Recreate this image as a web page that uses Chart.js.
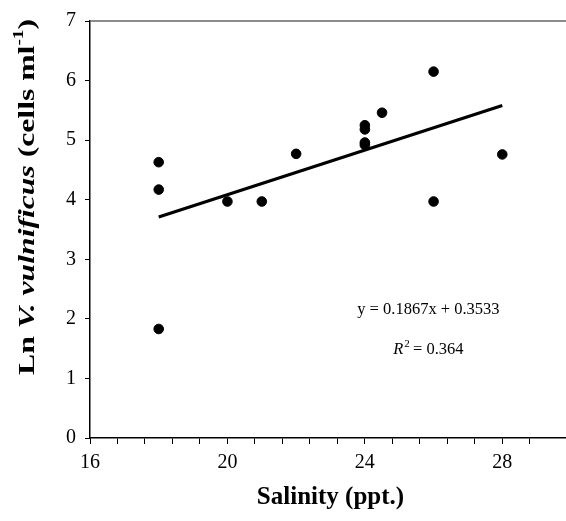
<!DOCTYPE html>
<html>
<head>
<meta charset="utf-8">
<script src="https://cdn.jsdelivr.net/npm/chart.js@4/dist/chart.umd.min.js"></script>
<style>
    html, body { margin: 0; padding: 0; overflow: hidden; background: #fff; }
    canvas { display: block; }
</style>
</head>
<body>
<canvas id="salinityChart" width="580" height="521"></canvas>
<script>
(function () {

    // salinity (ppt.) of each sample
    var salinity = [18, 18, 18, 20, 21, 22, 24, 24, 24, 24, 24.5, 26, 26, 28];
    // Ln V. vulnificus (cells ml-1)
    var lnCounts = [4.63, 4.17, 1.83, 3.97, 3.97, 4.77, 5.25, 5.18, 4.96, 4.92, 5.46, 6.15, 3.97, 4.76];

    // fitted line, read at its two ends
    var trendX = [18, 28];
    var trendY = [3.71, 5.58];

    var xTickLabels = [16, 20, 24, 28];
    var equationText = "y = 0.1867x + 0.3533";
    var rSquaredText = "= 0.364";

    var serif = "'Liberation Serif', 'Times New Roman', serif";

    var points = salinity.map(function (x, i) { return { x: x, y: lnCounts[i] }; });
    var trend = trendX.map(function (x, i) { return { x: x, y: trendY[i] }; });

    // top frame line, equation text and the rotated y title
    var extrasPlugin = {
        id: "extras",
        afterDraw: function (chart) {
            var ctx = chart.ctx;
            var area = chart.chartArea;
            var xs = chart.scales.x;
            var ys = chart.scales.y;

            ctx.save();
            ctx.strokeStyle = "#666";
            ctx.lineWidth = 1.5;
            ctx.beginPath();
            ctx.moveTo(area.left, area.top);
            ctx.lineTo(area.right, area.top);
            ctx.stroke();

            // equation
            ctx.fillStyle = "#000";
            ctx.textAlign = "center";
            ctx.textBaseline = "middle";
            ctx.font = "16.5px " + serif;
            var cx = xs.getPixelForValue(25.85);
            ctx.fillText(equationText, cx, ys.getPixelForValue(2.15));

            // R^2 line
            var ry = ys.getPixelForValue(1.48);
            ctx.font = "italic 16.5px " + serif;
            var rW = ctx.measureText("R").width;
            ctx.font = "11px " + serif;
            var supW = ctx.measureText("2").width;
            ctx.font = "16.5px " + serif;
            var restW = ctx.measureText(" " + rSquaredText).width;
            var start = cx - (rW + supW + restW) / 2;
            ctx.textAlign = "left";
            ctx.font = "italic 16.5px " + serif;
            ctx.fillText("R", start, ry);
            ctx.font = "11px " + serif;
            ctx.fillText("2", start + rW + 1, ry - 6);
            ctx.font = "16.5px " + serif;
            ctx.fillText(" " + rSquaredText, start + rW + supW, ry);

            // y axis title, stretched along its length like the scan
            var parts = [
                { t: "Ln ", f: "bold 23px " + serif, dy: 0 },
                { t: "V. vulnificus", f: "italic bold 23px " + serif, dy: 0 },
                { t: " (cells ml", f: "bold 23px " + serif, dy: 0 },
                { t: "-1", f: "bold 14px " + serif, dy: -9 },
                { t: ")", f: "bold 23px " + serif, dy: 0 }
            ];
            var total = 0;
            parts.forEach(function (p) {
                ctx.font = p.f;
                p.w = ctx.measureText(p.t).width;
                total += p.w;
            });
            ctx.translate(28, 197);
            ctx.rotate(-Math.PI / 2);
            ctx.scale(356 / total, 1);
            var pos = -total / 2;
            parts.forEach(function (p) {
                ctx.font = p.f;
                ctx.fillText(p.t, pos, p.dy);
                pos += p.w;
            });
            ctx.restore();
        }
    };

    var chart = new Chart(document.getElementById("salinityChart"), {
        type: "scatter",
        data: {
            datasets: [
                {
                    label: "samples",
                    data: points,
                    backgroundColor: "#000",
                    borderColor: "#000",
                    pointRadius: 4.8,
                    pointHoverRadius: 4.8
                },
                {
                    type: "line",
                    label: "fit",
                    data: trend,
                    borderColor: "#000",
                    borderWidth: 3.2,
                    pointRadius: 0,
                    fill: false
                }
            ]
        },
        options: {
            responsive: false,
            animation: false,
            layout: { padding: { top: 19, right: 9, left: 0, bottom: 0 } },
            plugins: {
                legend: { display: false },
                tooltip: { enabled: false }
            },
            scales: {
                x: {
                    type: "linear",
                    min: 16,
                    max: 30,
                    afterFit: function (s) { s.height = 83; },
                    border: { color: "#000", width: 1.5 },
                    grid: { drawOnChartArea: false, color: "#000", tickLength: 6, tickWidth: 1 },
                    ticks: {
                        stepSize: 0.8,
                        autoSkip: false,
                        maxRotation: 0,
                        padding: 7,
                        color: "#000",
                        font: { family: serif, size: 20 },
                        callback: function (v) {
                            var r = Math.round(v);
                            if (Math.abs(v - r) < 1e-6 && xTickLabels.indexOf(r) >= 0) {
                                return String(r);
                            }
                            return "";
                        }
                    },
                    title: {
                        display: true,
                        text: "Salinity (ppt.)",
                        color: "#000",
                        font: { family: serif, size: 25, weight: "bold" },
                        padding: { top: 0, bottom: 8 }
                    }
                },
                y: {
                    min: 0,
                    max: 7,
                    afterFit: function (s) { s.width = 90; },
                    border: { color: "#000", width: 1.5 },
                    grid: { drawOnChartArea: false, color: "#000", tickLength: 5, tickWidth: 1 },
                    ticks: {
                        stepSize: 1,
                        padding: 9,
                        color: "#000",
                        font: { family: serif, size: 20 }
                    }
                }
            }
        },
        plugins: [extrasPlugin]
    });

})();
</script>
</body>
</html>
